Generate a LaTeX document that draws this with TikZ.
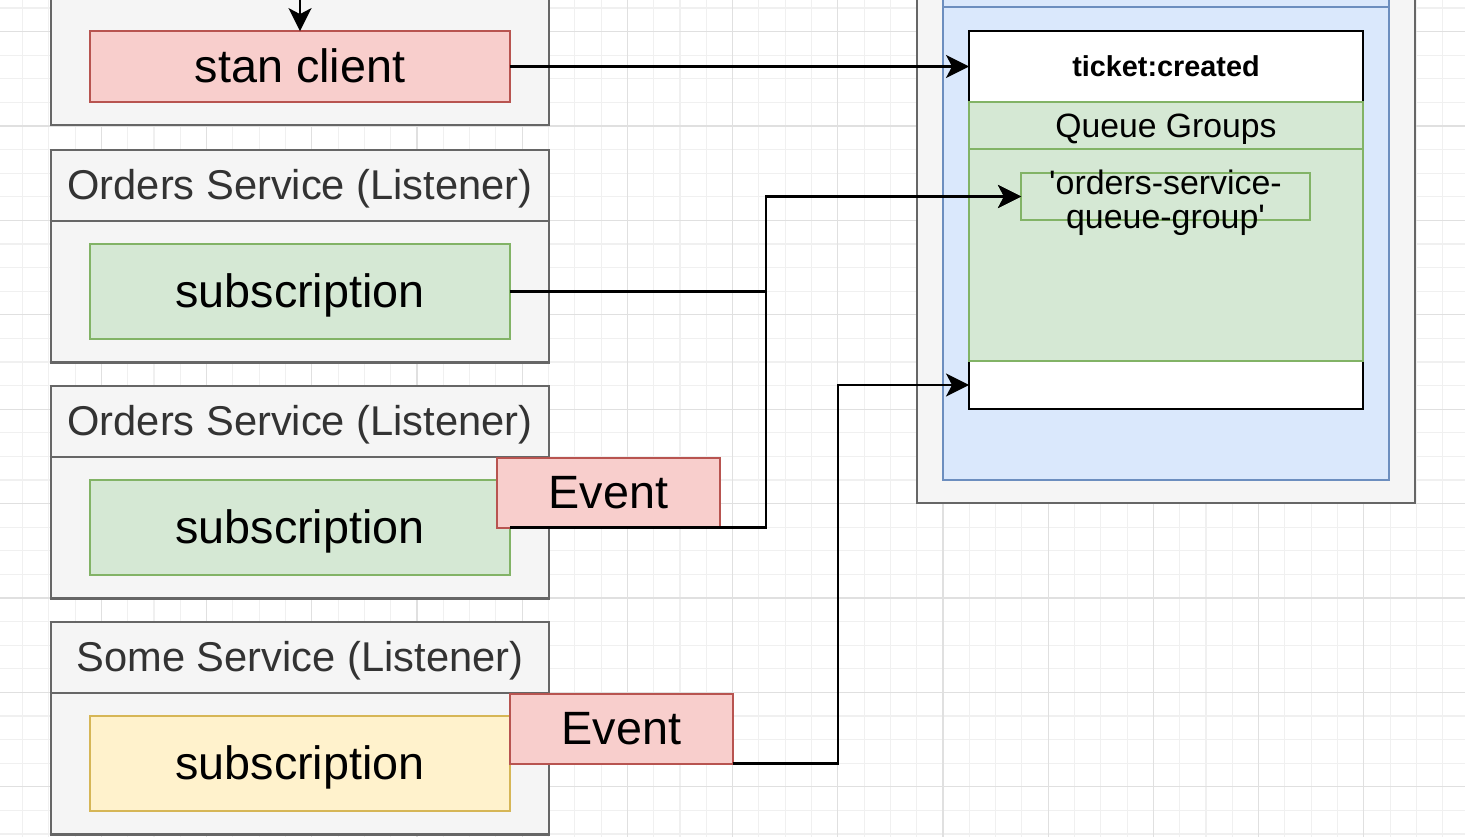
\documentclass[tikz,border=0pt]{standalone}
\usepackage{fontspec}
\setmainfont{Liberation Sans}
\usetikzlibrary{arrows.meta, positioning}

\definecolor{grayfill}{HTML}{F5F5F5}
\definecolor{grayline}{HTML}{666666}
\definecolor{titletext}{HTML}{333333}
\definecolor{pinkfill}{HTML}{F8CECC}
\definecolor{pinkline}{HTML}{B85450}
\definecolor{greenfill}{HTML}{D5E8D4}
\definecolor{greenline}{HTML}{82B366}
\definecolor{yellowfill}{HTML}{FFF2CC}
\definecolor{yellowline}{HTML}{D6B656}
\definecolor{bluefill}{HTML}{DAE8FC}
\definecolor{blueline}{HTML}{6C8EBF}
\definecolor{gridminor}{HTML}{F0F0F0}
\definecolor{gridmajor}{HTML}{E0E0E0}

\tikzset{
  box/.style={draw, line width=1.2pt, inner sep=0pt, outer sep=0pt},
  container/.style={box, draw=grayline, fill=grayfill, line width=1.4pt},
  lanehead/.style={container, minimum width=9.96cm, minimum height=1.416cm, text=titletext,
    font=\fontsize{23.7}{28}\selectfont, text height=21.4pt, text depth=5pt},
  lanebody/.style={container, minimum width=9.96cm, minimum height=2.832cm},
  bigtext/.style={font=\fontsize{26.6}{32}\selectfont, text height=24.1pt, text depth=5.6pt},
  clientbox/.style={box, bigtext, draw=pinkline, fill=pinkfill, minimum width=8.4cm, minimum height=1.416cm},
  eventbox/.style={box, bigtext, draw=pinkline, fill=pinkfill, minimum width=4.46cm, minimum height=1.4cm},
  subbox/.style={box, bigtext, draw=greenline, fill=greenfill, minimum width=8.4cm, minimum height=1.888cm},
  otherbox/.style={subbox, draw=yellowline, fill=yellowfill},
  channelbox/.style={box, draw=black, fill=white, minimum width=7.88cm},
  groupbox/.style={box, draw=greenline, fill=greenfill, minimum width=7.88cm},
  flow/.style={-{Stealth[length=0.46cm, width=0.46cm, inset=0.12cm]}, line width=1.4pt}
}

\begin{document}
\begin{tikzpicture}[x=0.02cm, y=-0.02cm]
\clip (0,0) rectangle (1465,837);
\fill[white] (0,0) rectangle (1465,837);

\foreach \i in {0,...,54}
  \draw[gridminor, line width=0.6pt] ({22.5+26.3*\i},0) -- ({22.5+26.3*\i},837);
\foreach \j in {0,...,35}
  \draw[gridminor, line width=0.6pt] (0,{8+23.6*\j}) -- (1465,{8+23.6*\j});
\foreach \i in {3,7,...,51}
  \draw[gridmajor, line width=0.6pt] ({22.5+26.3*\i},0) -- ({22.5+26.3*\i},837);
\foreach \j in {1,5,...,33}
  \draw[gridmajor, line width=0.6pt] (0,{8+23.6*\j}) -- (1465,{8+23.6*\j});

% publisher
\node (body0) [container, minimum width=9.96cm, minimum height=4.1cm] at (300,22.5) {};
\node (stan) [clientbox] at (300,66.5) {stan client};
\coordinate (feed) at (300,-30);

% listeners
\node (head1) [lanehead] at (300,185.4) {Orders Service (Listener)};
\node (body1) [lanebody, below=0pt of head1] {};
\node (sub1) [subbox] at (body1) {subscription};

\node (head2) [lanehead] at (300,421.4) {Orders Service (Listener)};
\node (body2) [lanebody, below=0pt of head2] {};
\node (sub2) [subbox] at (body2) {subscription};
\node (event1) [eventbox, anchor=south west] at ([xshift=-0.26cm]sub2.east) {Event};

\node (head3) [lanehead] at (300,657.4) {Some Service (Listener)};
\node (body3) [lanebody, below=0pt of head3] {};
\node (sub3) [otherbox] at (body3) {subscription};
\node (event2) [eventbox, anchor=south west] at (sub3.east) {Event};

% streaming server
\node (server) [container, minimum width=9.96cm, minimum height=11.66cm] at (1166,211.5) {};
\node (streaming) [box, draw=blueline, fill=bluefill, minimum width=8.92cm, minimum height=10.8cm] at (1166,210) {};
\draw[blueline, line width=1.2pt] (streaming.west |- 0,7) -- (streaming.east |- 0,7);
\node (ticket) [channelbox, minimum height=1.416cm, font=\fontsize{16.4}{20}\selectfont\bfseries,
  text height=14.8pt, text depth=3.5pt] at (1166,66.5) {ticket:created};
\node (ticketend) [channelbox, minimum height=0.96cm] at (1166,385) {};
\node (qghead) [groupbox, minimum height=0.944cm, below=0pt of ticket, font=\fontsize{19.2}{23}\selectfont,
  text height=17.4pt, text depth=4.1pt] {Queue Groups};
\node (qgbody) [groupbox, minimum height=4.24cm, below=0pt of qghead] {};
\node (qgroup) [box, draw=greenline, fill=greenfill, minimum width=5.78cm, minimum height=0.944cm,
  label={[font=\fontsize{19.3}{19.6}\selectfont, align=center, yshift=-0.12cm]center:{\textquotesingle orders-service-\\queue-group\textquotesingle}}] at (1165.5,196.5) {};

\coordinate (colA) at (766,0);
\coordinate (colB) at (838,0);

\draw[flow] (feed) -- (stan);
\draw[flow] (stan) -- (ticket);
\draw[flow] (sub1.east) -- (sub1.east -| colA) |- (qgroup.west);
\draw[flow] (sub2.east) -- (sub2.east -| colA) |- (qgroup.west);
\draw[flow] (event2.south east) -- (event2.south east -| colB) |- (ticketend.west);
\end{tikzpicture}
\end{document}
